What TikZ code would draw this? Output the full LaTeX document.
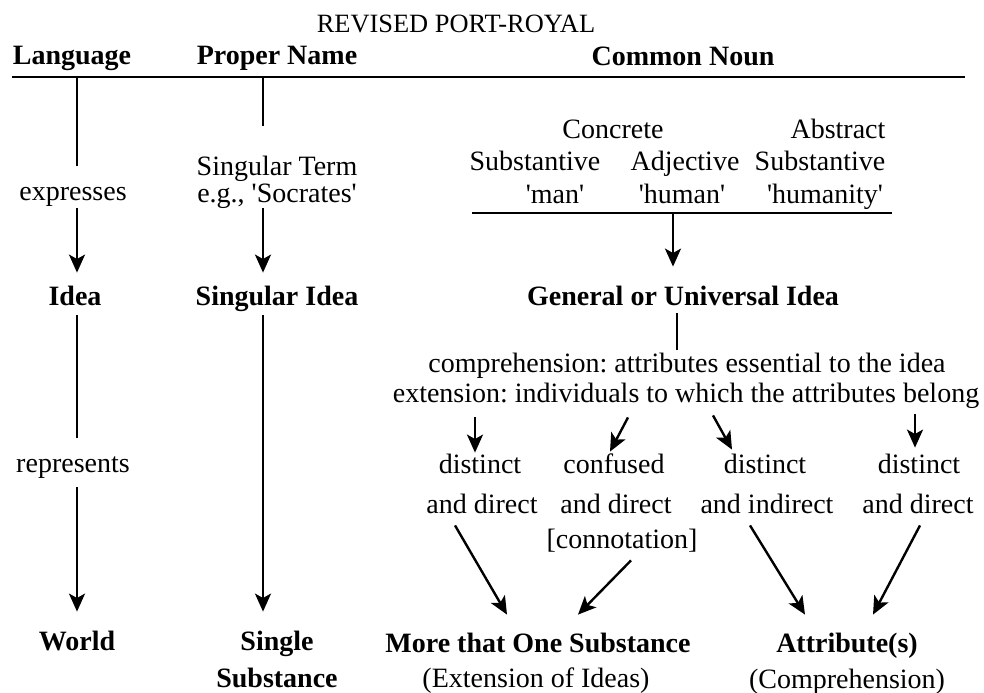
\documentclass[tikz,border=0pt]{standalone}
\usepackage{fontspec}
\setmainfont{Liberation Serif}
\usetikzlibrary{calc, arrows.meta}
\frenchspacing

\newcommand{\q}[1]{\textquotesingle#1\textquotesingle}

\tikzset{
  txt/.style={anchor=base, inner sep=0pt, text height=10pt, text depth=3pt,
    font=\fontsize{14}{16}\selectfont},
  bold/.style={txt, font=\fontsize{14}{16}\selectfont\bfseries},
  link/.style={line width=1.2pt},
  arr/.style={link, -{Stealth[length=9pt, width=8pt, inset=2.2pt]}},
}

\begin{document}
\begin{tikzpicture}[x=0.5pt, y=-0.5pt]
    \useasboundingbox (0,0) rectangle (984,692);

    % header
    \node[txt, font=\fontsize{13.2}{15}\selectfont] (title) at (456,32) {REVISED PORT-ROYAL};
    \node[bold] (lang) at (72,64) {Language};
    \node[bold] (pname) at (277,64) {Proper Name};
    \node[bold] (cnoun) at (683,65) {Common Noun};
    \coordinate (hl) at (12,77);
    \coordinate (hr) at (965,77);
    \draw[link] (hl) -- (hr);

    \coordinate (c1) at (77,0);
    \coordinate (c2) at (263,0);

    % language column
    \node[txt] (expr) at (73,200) {expresses};
    \node[bold] (idea) at (75,305) {Idea};
    \node[txt] (repr) at (73,472) {represents};
    \node[bold] (world) at (77,650) {World};

    \draw[link] (c1 |- hl) -- ($(c1 |- expr.north)+(0,-14)$);
    \draw[arr] ($(c1 |- expr.south)+(0,2)$) -- ($(c1 |- idea.north)+(0,-12)$);
    \draw[link] ($(c1 |- idea.south)+(0,4)$) -- ($(c1 |- repr.north)+(0,-14)$);
    \draw[arr] ($(c1 |- repr.south)+(0,9)$) -- ($(c1 |- world.north)+(0,-18)$);

    % proper name column
    \node[txt] (sterm) at (277,175) {Singular Term};
    \node[txt] (eg) at (277,202) {e.g., \q{Socrates}};
    \node[bold] (sidea) at (277,305) {Singular Idea};
    \node[bold] (single) at (277,650) {Single};
    \node[bold] (subst) at (277,687) {Substance};

    \draw[link] (c2 |- hl) -- ($(c2 |- sterm.north)+(0,-29)$);
    \draw[arr] (c2 |- eg.south) -- ($(c2 |- sidea.north)+(0,-12)$);
    \draw[arr] ($(c2 |- sidea.south)+(0,4)$) -- ($(c2 |- single.north)+(0,-18)$);

    % common noun column
    \node[txt] (concr) at (613,138) {Concrete};
    \node[txt] (abstr) at (838,138) {Abstract};
    \node[txt] (subl) at (535,170) {Substantive};
    \node[txt] (adj) at (685,170) {Adjective};
    \node[txt] (subr) at (820,170) {Substantive};
    \node[txt] (man) at (555,203) {\q{man}};
    \node[txt] (human) at (682,203) {\q{human}};
    \node[txt] (humty) at (825,203) {\q{humanity}};
    \coordinate (ul) at (472,213);
    \coordinate (ur) at (892,213);
    \coordinate (um) at (673,213);
    \draw[link] (ul) -- (ur);

    \node[bold] (gidea) at (683,305) {General or Universal Idea};
    \draw[arr] (um) -- ($(um |- gidea.north)+(0,-18)$);

    \node[txt] (compr) at (687,372) {comprehension: attributes essential to the idea};
    \node[txt] (ext) at (686,402) {extension: individuals to which the attributes belong};
    \draw[link] ($(gidea.south)+(-6,2)$) -- ($(gidea.south |- compr.north)+(-6,-2)$);

    % kinds of signification
    \node[txt] (d1a) at (480,473) {distinct};
    \node[txt] (d1b) at (482,513) {and direct};
    \node[txt] (d2a) at (614,473) {confused};
    \node[txt] (d2b) at (616,513) {and direct};
    \node[txt] (d2c) at (622,548) {[connotation]};
    \node[txt] (d3a) at (765,473) {distinct};
    \node[txt] (d3b) at (767,513) {and indirect};
    \node[txt] (d4a) at (919,473) {distinct};
    \node[txt] (d4b) at (918,513) {and direct};

    \draw[arr] ($(ext.south -| d1a.north)+(-5,9)$) -- ($(d1a.north)+(-5,0)$);
    \draw[arr] ($(ext.south -| d2a.north)+(14,9)$) -- ($(d2a.north)+(-4,-1)$);
    \draw[arr] ($(ext.south -| d3a.north)+(-52,7)$) -- ($(d3a.north)+(-33,-3)$);
    \draw[arr] ($(ext.south -| d4a.north)+(-4,6)$) -- ($(d4a.north)+(-4,-5)$);

    % world row
    \node[bold] (more) at (538,652) {More that One Substance};
    \node[txt] (extn) at (536,687) {(Extension of Ideas)};
    \node[bold] (attr) at (847,652) {Attribute(s)};
    \node[txt] (comp) at (847,688) {(Comprehension)};

    \draw[arr] ($(d1b.south)+(-27,6)$) -- ($(more.north)+(-31,-17)$);
    \draw[arr] ($(d2c.south)+(9,6)$) -- ($(more.north)+(40,-17)$);
    \draw[arr] ($(d3b.south)+(-17,6)$) -- ($(attr.north)+(-42,-17)$);
    \draw[arr] ($(d4b.south)+(2,6)$) -- ($(attr.north)+(26,-17)$);
\end{tikzpicture}
\end{document}
